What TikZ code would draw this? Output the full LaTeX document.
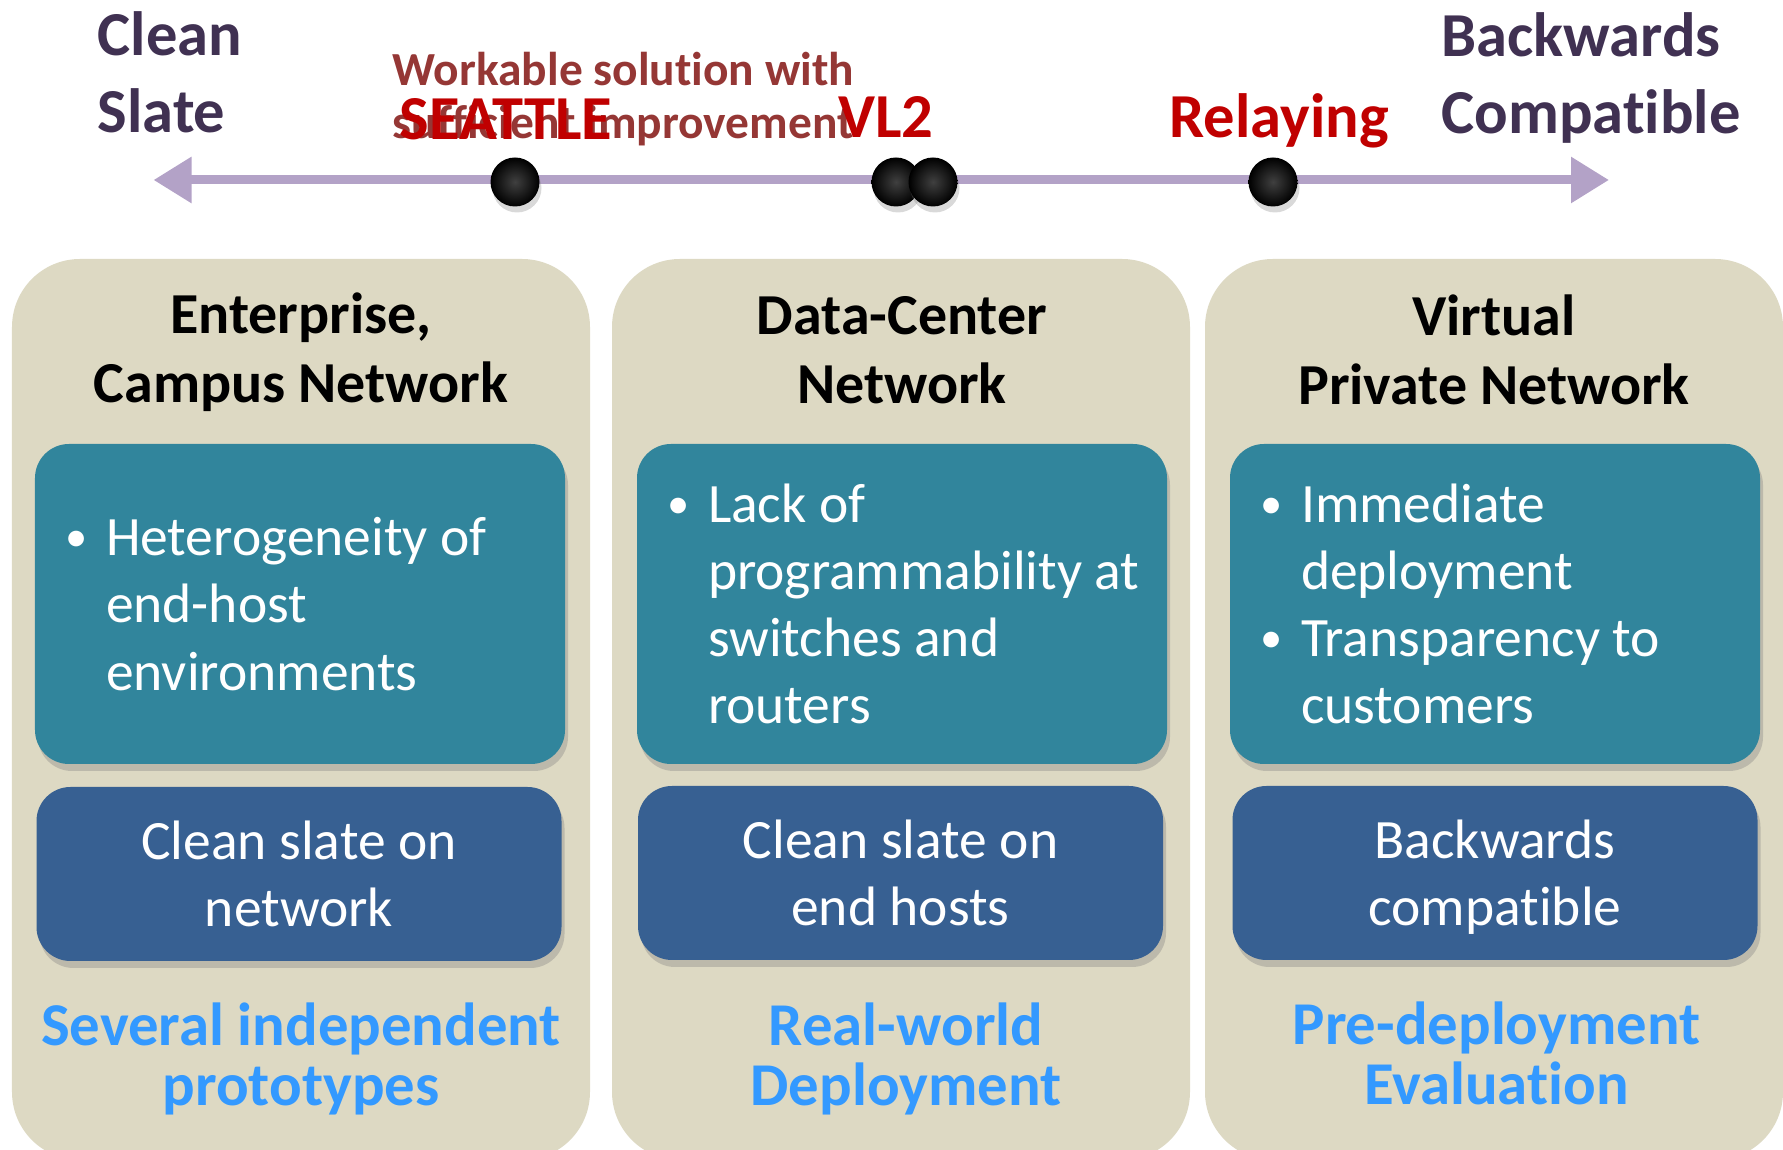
\documentclass[tikz,border=0pt]{standalone}
\usepackage{fontspec}
\setmainfont[Ligatures=NoCommon]{Carlito}
\usetikzlibrary{arrows.meta, positioning, shadows}
\definecolor{panelbg}{HTML}{DDD9C3}
\definecolor{probteal}{HTML}{31859C}
\definecolor{apprblue}{HTML}{376092}
\definecolor{evalblue}{HTML}{3399FF}
\definecolor{endpurple}{HTML}{403152}
\definecolor{axispurple}{HTML}{B3A2C7}
\definecolor{schemered}{HTML}{C00000}
\definecolor{notered}{HTML}{953735}
\newcommand{\bul}{\llap{\raisebox{0.07em}{\scalebox{0.8}{\textbullet}}\hspace{1.8mm}}}

\begin{document}
\begin{tikzpicture}[
  >=Stealth,
  pan/.style={rectangle, rounded corners=6.8mm, fill=panelbg, minimum width=5.78cm, minimum height=9.01cm, inner sep=0pt},
  hd/.style={align=center, font=\fontsize{16.5}{19.7}\selectfont\bfseries},
  prb/.style={rectangle, rounded corners=3.4mm, fill=probteal, minimum width=5.3cm, minimum height=3.2cm,
    drop shadow={shadow xshift=0.3mm, shadow yshift=-0.7mm, opacity=0.35}},
  ptx/.style={align=left, inner sep=0pt, text=white, font=\fontsize{15.8}{19.1}\selectfont},
  apr/.style={rectangle, rounded corners=3.4mm, fill=apprblue, minimum width=5.25cm, minimum height=1.74cm,
    align=center, text=white, font=\fontsize{15.8}{19.1}\selectfont,
    drop shadow={shadow xshift=0.3mm, shadow yshift=-0.7mm, opacity=0.35}},
  ev/.style={align=center, text=evalblue, font=\fontsize{17.3}{17.1}\selectfont\bfseries},
  endl/.style={anchor=west, align=left, inner sep=0pt, text=endpurple, font=\fontsize{17.8}{21.9}\selectfont\bfseries},
  sch/.style={anchor=base, inner sep=0pt, text=schemered, font=\fontsize{17.8}{21.9}\selectfont\bfseries},
  ax/.style={{Triangle[length=3.8mm, width=4.4mm]}-{Triangle[length=3.8mm, width=4.4mm]}, line width=0.9mm, draw=axispurple},
  dot/.style={circle, inner sep=0pt, minimum size=4.9mm, inner color=black!75, outer color=black,
    drop shadow={shadow xshift=0.2mm, shadow yshift=-0.6mm, opacity=0.3}}]
\useasboundingbox (0,0) rectangle (17.83,-11.5);

% ---- Top: axis from clean slate to backwards compatible ----
\coordinate (axl) at (1.535,-1.80);
\coordinate (axr) at (16.09,-1.80);
\node[endl] (clean) at (0.97,-0.72) {Clean\\Slate};
\node[endl] (back) at (14.41,-0.78) {Backwards\\Compatible};
\draw[ax] (axl) -- (axr);
\node[dot] (dseattle) at (5.15,-1.82) {};
\node[dot] (dvla) at (8.96,-1.82) {};
\node[dot] (dvlb) at (9.33,-1.82) {};
\node[dot] (drelay) at (12.73,-1.82) {};
\node[anchor=west, align=left, inner sep=0pt, text=notered, font=\fontsize{13.5}{15.25}\selectfont\bfseries]
  (note) at (3.92,-0.99) {Workable solution with\\sufficient improvement};
\node[sch] (seattle) at (5.06,-1.40) {SEATTLE};
\node[sch] (vl2) at (8.86,-1.38) {VL2};
\node[sch] (relay) at (12.79,-1.38) {Relaying};

% ---- Panels ----
\node[pan] (pan1) at (3.01,-7.095) {};
\node[pan] (pan2) at (9.01,-7.095) {};
\node[pan] (pan3) at (14.94,-7.095) {};

\node[hd] (hd1) at (3.01,-3.525) {Enterprise,\\Campus Network};
\node[hd] (hd2) at (9.02,-3.50) {Data-Center\\Network};
\node[hd] (hd3) at (14.94,-3.50) {Virtual\\Private Network};

% problems
\node[prb] (prb1) at (3.00,-6.04) {};
\node[prb] (prb2) at (9.02,-6.04) {};
\node[prb] (prb3) at (14.95,-6.04) {};
\node[ptx, right=7.1mm of prb1.west] (ptx1) {\bul Heterogeneity of\\end-host\\environments};
\node[ptx, right=7.1mm of prb2.west] (ptx2) {\bul Lack of\\programmability at\\switches and\\routers};
\node[ptx, right=7.1mm of prb3.west] (ptx3) {\bul Immediate\\deployment\\\bul Transparency to\\customers};

% approaches
\node[apr] (apr1) at (2.99,-8.74) {Clean slate on\\network};
\node[apr] (apr2) at (9.005,-8.73) {Clean slate on\\end hosts};
\node[apr, text depth=0pt] (apr3) at (14.95,-8.73) {Backwards\\compatible};

% evaluation
\node[ev] (ev1) at (3.01,-10.59) {Several independent\\prototypes};
\node[ev] (ev2) at (9.06,-10.59) {Real-world\\Deployment};
\node[ev] (ev3) at (14.965,-10.53) {Pre-deployment\\Evaluation};
\end{tikzpicture}
\end{document}
